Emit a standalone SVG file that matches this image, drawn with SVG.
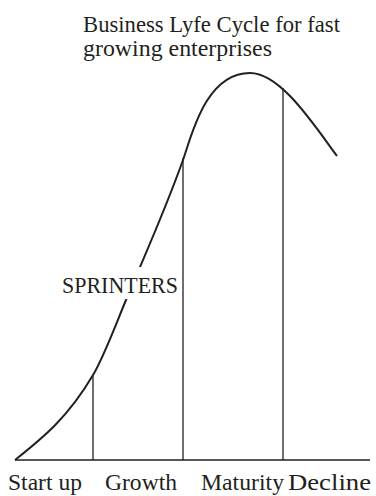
<svg xmlns="http://www.w3.org/2000/svg" width="376" height="496" viewBox="0 0 376 496">
<style>
text{font-family:"Liberation Serif","Times New Roman",serif;font-size:23.5px;fill:#231f20}
.curve{fill:none;stroke:#231f20;stroke-width:2}
.ln{fill:none;stroke:#231f20;stroke-width:1.3}
</style>
<rect width="376" height="496" fill="#fff"/>
<g id="title">
<text x="83" y="32" textLength="257" lengthAdjust="spacingAndGlyphs">Business Lyfe Cycle for fast</text>
<text x="83" y="56" textLength="189" lengthAdjust="spacingAndGlyphs">growing enterprises</text>
</g>
<g id="connectors">
<path class="curve" d="M15,460 C41,439.2 67,419.2 93,375 C104,356.3 115,326.4 126,300 C145,254.4 164,213.3 183,160 C191,138 205,73 250,73 C280,73 312,122 337,156"/>
<line class="ln" x1="15" y1="460" x2="370" y2="460"/>
<line class="ln" x1="93" y1="375" x2="93" y2="460"/>
<line class="ln" x1="183" y1="158" x2="183" y2="460"/>
<line class="ln" x1="283" y1="88" x2="283" y2="460"/>
</g>
<g id="sprinters">
<rect x="60" y="267" width="120" height="32" fill="#fff"/>
<text x="62" y="293" textLength="116" lengthAdjust="spacingAndGlyphs">SPRINTERS</text>
</g>
<g id="stages">
<text x="8" y="490" textLength="74" lengthAdjust="spacingAndGlyphs">Start up</text>
<text x="105" y="490" textLength="72" lengthAdjust="spacingAndGlyphs">Growth</text>
<text x="201" y="490" textLength="83" lengthAdjust="spacingAndGlyphs">Maturity</text>
<text x="288" y="490" textLength="83" lengthAdjust="spacingAndGlyphs">Decline</text>
</g>
</svg>
